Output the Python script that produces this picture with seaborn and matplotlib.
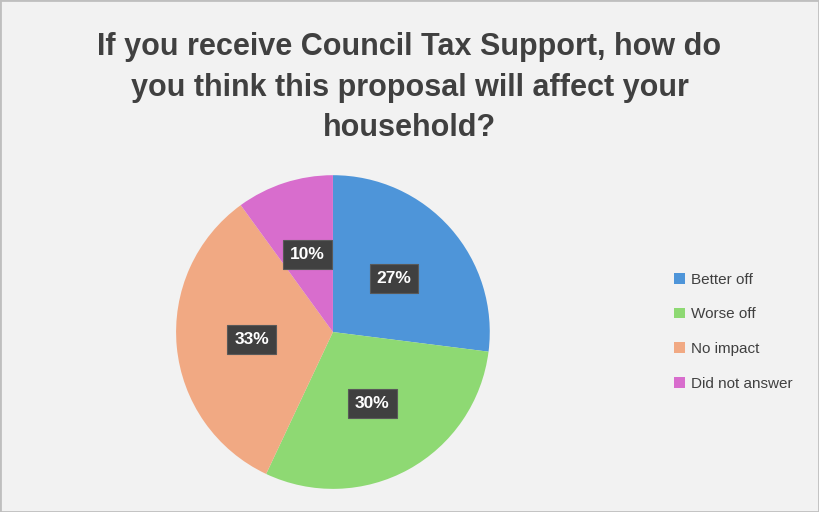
import matplotlib.pyplot as plt
import seaborn as sns
from matplotlib.patches import Rectangle

# Datos
categorias = ["Better off", "Worse off", "No impact", "Did not answer"]
valores = [27, 30, 33, 10]
colores = ["#4E95D9", "#8ED973", "#F1A983", "#D86DCD"]
titulo = "If you receive Council Tax Support, how do\nyou think this proposal will affect your\nhousehold?"

sns.set_theme(style="white")
plt.rcParams['font.family'] = ['Liberation Sans', 'DejaVu Sans']

fig = plt.figure(figsize=(8.19, 5.12), dpi=100, facecolor="#F2F2F2")
fig.patches.append(Rectangle((0, 0), 1, 1, transform=fig.transFigure, fill=False,
                             edgecolor="#BFBFBF", linewidth=2))

ax = fig.add_axes([0.215, 0.045, 0.383, 0.613])
ax.set_facecolor("#F2F2F2")
wedges, textos, autotextos = ax.pie(
    valores, colors=colores, startangle=90, counterclock=False,
    autopct=lambda p: f"{p:.0f}%", pctdistance=0.52,
    wedgeprops=dict(linewidth=0),
)
for t in autotextos:
    t.set_color("white")
    t.set_fontsize(12.5)
    t.set_fontweight("bold")
    t.set_bbox(dict(boxstyle="square,pad=0.4", facecolor="#404040", edgecolor="#595959", linewidth=0.8))
ax.set_xlim(-1, 1)
ax.set_ylim(-1, 1)
ax.set_aspect("equal")

fig.text(0.5, 0.937, titulo, ha="center", va="top", fontsize=22, fontweight="bold",
         color="#404040", linespacing=1.45)

leg = fig.legend(wedges, categorias, loc="center left", bbox_to_anchor=(0.806, 0.352),
                 frameon=False, fontsize=11, handlelength=0.7, handleheight=0.7,
                 labelspacing=1.35, handletextpad=0.45)
for t in leg.get_texts():
    t.set_color("#404040")

fig.savefig("out.png", dpi=100, facecolor=fig.get_facecolor())
